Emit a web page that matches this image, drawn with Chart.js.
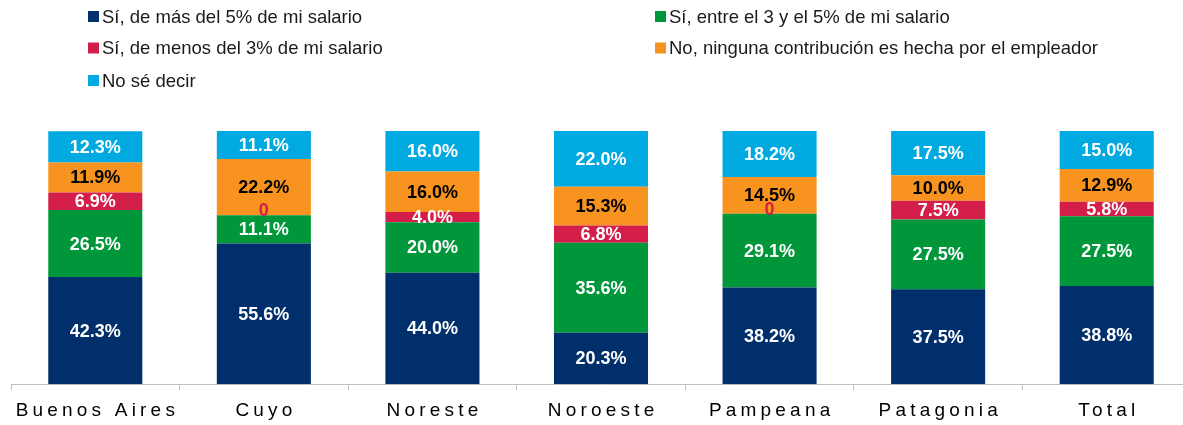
<!DOCTYPE html>
<html>
<head>
<meta charset="utf-8">
<script src="https://cdn.jsdelivr.net/npm/chart.js@4.4.0/dist/chart.umd.min.js"></script>
<style>
  body { margin: 0; overflow: hidden; background: #fff; }
  #wrap { width: 1191px; height: 425px; }
</style>
</head>
<body>
<div id="wrap"><canvas id="barChart" width="1191" height="425"></canvas></div>
<script>
var regiones = ["Buenos Aires", "Cuyo", "Noreste", "Noroeste", "Pampeana", "Patagonia", "Total"];

var masDel5 = [42.3, 55.6, 44.0, 20.3, 38.2, 37.5, 38.8];
var entre3y5 = [26.5, 11.1, 20.0, 35.6, 29.1, 27.5, 27.5];
var menosDel3 = [6.9, 0, 4.0, 6.8, 0, 7.5, 5.8];
var ninguna = [11.9, 22.2, 16.0, 15.3, 14.5, 10.0, 12.9];
var noSe = [12.3, 11.1, 16.0, 22.0, 18.2, 17.5, 15.0];

var series = ["Sí, de más del 5% de mi salario", "Sí, entre el 3 y el 5% de mi salario",
  "Sí, de menos del 3% de mi salario", "No, ninguna contribución es hecha por el empleador", "No sé decir"];

var colores = ["#002F6C", "#00963A", "#D41E4A", "#F7931E", "#00A9E0"];
var colorTexto = ["#fff", "#fff", "#fff", "#000", "#fff"];

var data = {
  labels: regiones,
  datasets: [
    { label: series[0], data: masDel5, backgroundColor: colores[0] },
    { label: series[1], data: entre3y5, backgroundColor: colores[1] },
    { label: series[2], data: menosDel3, backgroundColor: colores[2] },
    { label: series[3], data: ninguna, backgroundColor: colores[3] },
    { label: series[4], data: noSe, backgroundColor: colores[4] }
  ]
};

// etiquetas de valores dentro de cada segmento
var valueLabels = {
  id: "valueLabels",
  afterDatasetsDraw: function(chart) {
    var ctx = chart.ctx;
    ctx.save();
    ctx.font = "bold 18px 'Liberation Sans', Arial, sans-serif";
    ctx.textAlign = "center";
    ctx.textBaseline = "middle";
    chart.data.datasets.forEach(function(ds, i) {
      var meta = chart.getDatasetMeta(i);
      meta.data.forEach(function(bar, j) {
        var v = ds.data[j];
        if (v === 0) {
          ctx.fillStyle = colores[2];
          ctx.fillText("0", bar.x, bar.y - 4);
        } else {
          ctx.fillStyle = colorTexto[i];
          ctx.fillText(v.toFixed(1) + "%", bar.x, (bar.y + bar.base) / 2 + 1);
        }
      });
    });
    ctx.restore();
  }
};

// nombres de region con espaciado entre letras
var axisLabels = {
  id: "axisLabels",
  afterDraw: function(chart) {
    var ctx = chart.ctx;
    var x = chart.scales.x;
    ctx.save();
    ctx.font = "19px 'Liberation Sans', Arial, sans-serif";
    ctx.letterSpacing = "4.2px";
    ctx.fillStyle = "#000";
    ctx.textBaseline = "middle";
    ctx.textAlign = "left";
    chart.data.labels.forEach(function(lbl, i) {
      var w = ctx.measureText(lbl).width - 4.2;
      ctx.fillText(lbl, x.getPixelForValue(i) - w / 2, 411);
    });
    ctx.restore();
  }
};

// leyenda en dos columnas
var legendGrid = {
  id: "legendGrid",
  afterDraw: function(chart) {
    var ctx = chart.ctx;
    var cols = [88, 655];
    var rows = [16.5, 48, 80.5];
    ctx.save();
    ctx.font = "18.5px 'Liberation Sans', Arial, sans-serif";
    ctx.textBaseline = "middle";
    chart.data.datasets.forEach(function(ds, i) {
      var cx = cols[i % 2], cy = rows[Math.floor(i / 2)];
      ctx.fillStyle = ds.backgroundColor;
      ctx.fillRect(cx, cy - 5.5, 11, 11);
      ctx.fillStyle = "#1a1a1a";
      ctx.fillText(ds.label, cx + 14, cy + 1);
    });
    ctx.restore();
  }
};

var options = {
  responsive: false,
  animation: false,
  layout: { padding: { left: 11, right: 0, top: 131, bottom: 4 } },
  plugins: { legend: { display: false }, tooltip: { enabled: false } },
  scales: {
    x: {
      stacked: true,
      grid: { offset: true, drawOnChartArea: false, color: "#c0c0c0", tickLength: 6 },
      border: { color: "#c0c0c0", width: 1 },
      ticks: { color: "transparent", font: { size: 19 }, padding: 4, maxRotation: 0, autoSkip: false }
    },
    y: {
      stacked: true,
      display: false,
      min: 0,
      max: 100
    }
  },
  datasets: { bar: { categoryPercentage: 1, barPercentage: 0.558 } }
};

var myBarChart = new Chart(document.getElementById("barChart").getContext("2d"), {
  type: "bar",
  data: data,
  options: options,
  plugins: [valueLabels, axisLabels, legendGrid]
});
</script>
</body>
</html>
